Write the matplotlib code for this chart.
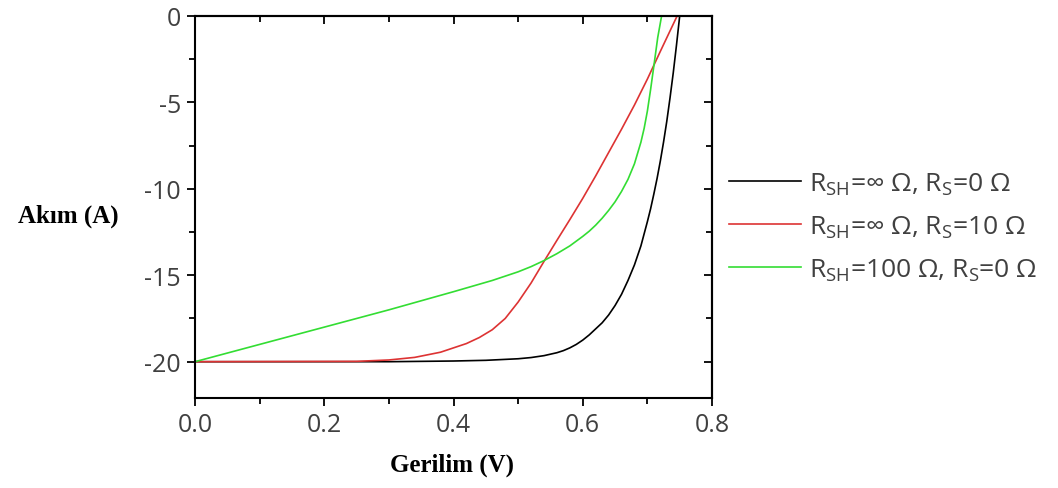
import numpy as np
import matplotlib
matplotlib.use('Agg')
import matplotlib.pyplot as plt
from matplotlib.ticker import MultipleLocator

plt.rcParams['font.family'] = ['Open Sans', 'DejaVu Sans']

# voltage (V), current (A)
v_ideal = [0.0, 0.30, 0.40, 0.45, 0.50, 0.52, 0.54, 0.56, 0.57, 0.58, 0.59, 0.60,
           0.61, 0.62, 0.63, 0.64, 0.65, 0.66, 0.67, 0.68, 0.69, 0.70, 0.705, 0.71,
           0.715, 0.72, 0.725, 0.73, 0.735, 0.74, 0.745, 0.75]
i_ideal = [-20.0, -20.0, -19.96, -19.92, -19.83, -19.76, -19.65, -19.48, -19.36, -19.2, -19.0, -18.75,
           -18.45, -18.1, -17.75, -17.3, -16.75, -16.1, -15.3, -14.4, -13.3, -11.9, -11.15, -10.3,
           -9.4, -8.4, -7.3, -6.1, -4.75, -3.3, -1.7, 0.0]

v_rs = [0.0, 0.25, 0.30, 0.34, 0.38, 0.42, 0.44, 0.46, 0.48, 0.50, 0.52, 0.54,
        0.56, 0.58, 0.60, 0.62, 0.64, 0.66, 0.68, 0.70, 0.72, 0.746]
i_rs = [-20.0, -19.98, -19.9, -19.75, -19.45, -18.95, -18.6, -18.15, -17.5, -16.55, -15.45, -14.2,
        -12.98, -11.78, -10.55, -9.25, -7.9, -6.55, -5.15, -3.65, -2.05, 0.0]

v_rsh = [0.0, 0.10, 0.20, 0.30, 0.40, 0.46, 0.50, 0.52, 0.54, 0.56, 0.58, 0.60,
         0.61, 0.62, 0.63, 0.64, 0.65, 0.66, 0.67, 0.68, 0.69, 0.695, 0.70, 0.705,
         0.71, 0.716, 0.722]
i_rsh = [-20.0, -19.0, -18.0, -17.0, -15.95, -15.3, -14.8, -14.5, -14.15, -13.75, -13.3, -12.75,
         -12.45, -12.1, -11.7, -11.25, -10.75, -10.15, -9.45, -8.55, -7.3, -6.5, -5.5, -4.25,
         -2.9, -1.25, 0.0]

labels = [r'R$_{\mathregular{SH}}$=∞ Ω, R$_{\mathregular{S}}$=0 Ω',
          r'R$_{\mathregular{SH}}$=∞ Ω, R$_{\mathregular{S}}$=10 Ω',
          r'R$_{\mathregular{SH}}$=100 Ω, R$_{\mathregular{S}}$=0 Ω']

fig = plt.figure(figsize=(10.58, 4.89), dpi=100)
ax = fig.add_axes([195/1058, 1 - 399/489, (712-195)/1058, (399-17)/489])

ax.plot(v_ideal, i_ideal, color='black', lw=1.2, label=labels[0])
ax.plot(v_rs, i_rs, color='#dd3333', lw=1.2, label=labels[1])
ax.plot(v_rsh, i_rsh, color='#33dd33', lw=1.2, label=labels[2])

ax.set_xlim(0, 0.8)
ax.set_ylim(-22.1, 0)
ax.xaxis.set_major_locator(MultipleLocator(0.2))
ax.xaxis.set_minor_locator(MultipleLocator(0.1))
ax.yaxis.set_major_locator(MultipleLocator(5))
ax.yaxis.set_minor_locator(MultipleLocator(2.5))
ax.xaxis.set_major_formatter(matplotlib.ticker.FormatStrFormatter('%.1f'))
ax.yaxis.set_major_formatter(matplotlib.ticker.FuncFormatter(lambda y, p: '%d' % y))

for s in ax.spines.values():
    s.set_linewidth(1.5)

ax.tick_params(which='both', direction='out', width=1.3, colors='black',
               labelcolor='#404040', labelsize=18, top=False, right=False)
ax.tick_params(which='major', length=6, pad=4)
ax.tick_params(which='minor', length=4)

# mirror ticks pointing inward on top and right
sec_x = ax.secondary_xaxis('top')
sec_x.xaxis.set_major_locator(MultipleLocator(0.2))
sec_x.xaxis.set_minor_locator(MultipleLocator(0.1))
sec_x.tick_params(which='both', direction='in', width=1.3, labeltop=False)
sec_x.tick_params(which='major', length=6)
sec_x.tick_params(which='minor', length=4)
sec_x.spines['top'].set_linewidth(1.5)
sec_y = ax.secondary_yaxis('right')
sec_y.yaxis.set_major_locator(MultipleLocator(5))
sec_y.yaxis.set_minor_locator(MultipleLocator(2.5))
sec_y.tick_params(which='both', direction='in', width=1.3, labelright=False)
sec_y.tick_params(which='major', length=6)
sec_y.tick_params(which='minor', length=4)
sec_y.spines['right'].set_linewidth(1.5)

fig.text(452/1058, 1 - 465/489, 'Gerilim (V)', family='Liberation Serif',
         weight='bold', fontsize=18, ha='center', va='center')
fig.text(18/1058, 1 - 216/489, 'Akım (A)', family='Liberation Serif',
         weight='bold', fontsize=18, ha='left', va='center')

fig.legend(loc='upper left', bbox_to_anchor=(718/1058, 1 - 161/489), frameon=False,
           fontsize=19, handlelength=2.75, handletextpad=0.3, labelspacing=0.62,
           labelcolor='#404040', borderaxespad=0)

fig.savefig('out.png', dpi=100)
